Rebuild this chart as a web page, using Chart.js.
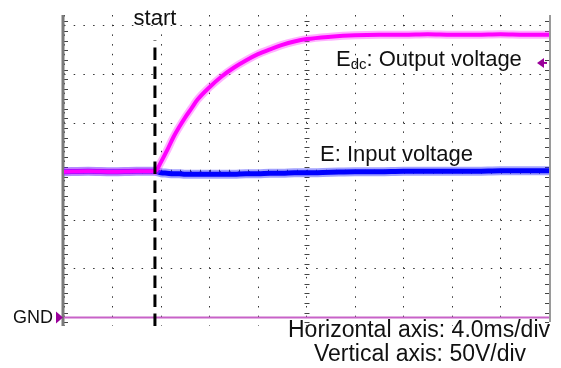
<!DOCTYPE html>
<html>
<head>
<meta charset="utf-8">
<script src="https://cdn.jsdelivr.net/npm/chart.js@4"></script>
<style>
  html, body { margin: 0; padding: 0; background: #fff; }
  #wrap { position: relative; width: 561px; height: 368px; font-family: "Liberation Sans", Arial, sans-serif; color: #111; }
  #scope { position: absolute; left: 0; top: 0; }
  .lbl { position: absolute; white-space: nowrap; font-size: 22px; line-height: 22px; }
  .foot { font-size: 23px; line-height: 23px; transform: translateX(-50%); }
</style>
</head>
<body>
<div id="wrap">
  <canvas id="scope" width="561" height="368"></canvas>
  <div class="lbl" style="left:155px; top:7px; transform: translateX(-50%);">start</div>
  <div class="lbl" style="left:336px; top:48px;">E<span style="font-size:15px; position:relative; top:3px;">dc</span>: Output voltage</div>
  <div class="lbl" style="left:320px; top:143px;">E: Input voltage</div>
  <div class="lbl" style="left:13px; top:308px; font-size:18px; line-height:18px;">GND</div>
  <div class="lbl foot" style="left:419px; top:318px;">Horizontal axis: 4.0ms/div</div>
  <div class="lbl foot" style="left:420px; top:342px;">Vertical axis: 50V/div</div>
</div>
<script>
// time base (ms) and traces (V)
const timeMs = [0, 2, 4, 6, 7.5, 8, 8.5, 9, 9.5, 10, 10.5, 11, 12, 13, 14, 15, 16, 17, 18, 19, 20, 22, 24, 26, 28, 30, 32, 34, 36, 38, 40];
const outputEdc = [150, 150.5, 150, 150.5, 150.5, 160, 172, 185, 196, 206, 215, 224, 237, 248, 257, 264.5, 271, 276, 280.5, 284, 286.5, 289, 290.5, 291, 291, 291.5, 291, 291, 291.5, 291, 291];
const inputE = [150, 150.5, 150, 150.5, 150.5, 149, 148.5, 148, 148, 147.5, 147.5, 147.5, 147.5, 147.5, 147.5, 148, 148, 148.5, 148.5, 149, 149, 149.5, 150, 150, 150.5, 150.5, 150.5, 150.5, 151, 151, 151];
const startMs = 7.5;
const startSpan = [-8.7, 285];
const gndTime = [0, 40];

// graticule: 10 x divisions of 4 ms, 50 V per division
const xTicks = [0, 4, 8, 12, 16, 20, 24, 28, 32, 36, 40];
const yTicks = [0, 50, 100, 150, 200, 250, 300];
const xRange = [0, 40];
const yRange = [-8.7, 311.3];

const pts = (xs, ys) => xs.map((x, i) => ({ x: x, y: ys[i] }));

// small scope details: border lines, sub-division ticks, GND and channel markers
const scopeDeco = {
  id: 'scopeDeco',
  beforeDatasetsDraw(chart) {
    const { ctx, chartArea: a, scales: { x, y } } = chart;
    ctx.save();
    ctx.strokeStyle = '#444';
    ctx.lineWidth = 1;
    // sub-division ticks along center lines and right/left edges
    const cx = x.getPixelForValue(20), cy = y.getPixelForValue(150);
    ctx.beginPath();
    for (let v = -5; v <= 310; v += 10) {
      const py = Math.round(y.getPixelForValue(v)) + 0.5;
      if (py < a.top || py > a.bottom) continue;
      ctx.moveTo(cx - 2, py); ctx.lineTo(cx + 3, py);
      ctx.moveTo(a.left, py); ctx.lineTo(a.left + 4, py);
      ctx.moveTo(a.right - 4, py); ctx.lineTo(a.right, py);
    }
    for (let t = 0; t <= 40; t += 0.8) {
      const px = Math.round(x.getPixelForValue(t)) + 0.5;
      ctx.moveTo(px, cy - 2); ctx.lineTo(px, cy + 2);
    }
    ctx.stroke();
    // frame
    ctx.strokeStyle = '#7a7a7a';
    ctx.lineWidth = 3;
    ctx.beginPath(); ctx.moveTo(a.left - 1, a.top); ctx.lineTo(a.left - 1, a.bottom); ctx.stroke();
    ctx.strokeStyle = '#9a9a9a';
    ctx.lineWidth = 2;
    ctx.beginPath(); ctx.moveTo(a.right + 1, a.top); ctx.lineTo(a.right + 1, a.bottom - 4); ctx.stroke();
    ctx.restore();
  },
  afterDatasetsDraw(chart) {
    const { ctx, chartArea: a, scales: { x, y } } = chart;
    ctx.save();
    ctx.fillStyle = '#9a009a';
    ctx.strokeStyle = '#9a009a';
    // GND marker
    const gy = y.getPixelForValue(0);
    ctx.beginPath();
    ctx.moveTo(a.left - 8, gy - 6); ctx.lineTo(a.left - 1, gy); ctx.lineTo(a.left - 8, gy + 6);
    ctx.closePath(); ctx.fill();
    // Edc channel arrow
    const ay = y.getPixelForValue(262);
    ctx.beginPath();
    ctx.moveTo(a.right - 12, ay); ctx.lineTo(a.right - 5, ay - 5); ctx.lineTo(a.right - 5, ay + 5);
    ctx.closePath(); ctx.fill();
    ctx.lineWidth = 2;
    ctx.beginPath(); ctx.moveTo(a.right - 6, ay); ctx.lineTo(a.right - 2, ay); ctx.stroke();
    ctx.restore();
  }
};

const ctx = document.getElementById('scope').getContext('2d');
new Chart(ctx, {
  type: 'line',
  data: {
    datasets: [
      { data: pts([startMs, startMs], startSpan), borderColor: '#000', borderWidth: 3, borderDash: [12.5, 6.5], order: 0 },
      { data: pts(timeMs, outputEdc), borderColor: '#ff00ff', borderWidth: 4, cubicInterpolationMode: 'monotone', order: 1 },
      { data: pts(timeMs, outputEdc), borderColor: 'rgba(255, 60, 255, 0.4)', borderWidth: 8, cubicInterpolationMode: 'monotone', order: 2 },
      { data: pts(timeMs, inputE), borderColor: '#0000ff', borderWidth: 5, cubicInterpolationMode: 'monotone', order: 3 },
      { data: pts(timeMs, inputE), borderColor: 'rgba(20, 20, 255, 0.4)', borderWidth: 9, cubicInterpolationMode: 'monotone', order: 4 },
      { data: pts(gndTime, [0, 0]), borderColor: '#c862c8', borderWidth: 2, order: 5 }
    ]
  },
  options: {
    responsive: false,
    animation: false,
    events: [],
    layout: { padding: { left: 64, right: 12, top: 15, bottom: 42 } },
    elements: { point: { radius: 0 } },
    plugins: { legend: { display: false }, tooltip: { enabled: false } },
    scales: {
      x: {
        type: 'linear', min: xRange[0], max: xRange[1],
        afterBuildTicks: axis => { axis.ticks = xTicks.map(v => ({ value: v })); },
        ticks: { display: false },
        grid: { color: '#333', lineWidth: 1, drawTicks: false },
        border: { display: false, dash: [1.5, 8.2] }
      },
      y: {
        type: 'linear', min: yRange[0], max: yRange[1],
        afterBuildTicks: axis => { axis.ticks = yTicks.map(v => ({ value: v })); },
        ticks: { display: false },
        grid: { color: '#333', lineWidth: 1, drawTicks: false },
        border: { display: false, dash: [1.5, 8.2] }
      }
    }
  },
  plugins: [scopeDeco]
});
</script>
</body>
</html>
